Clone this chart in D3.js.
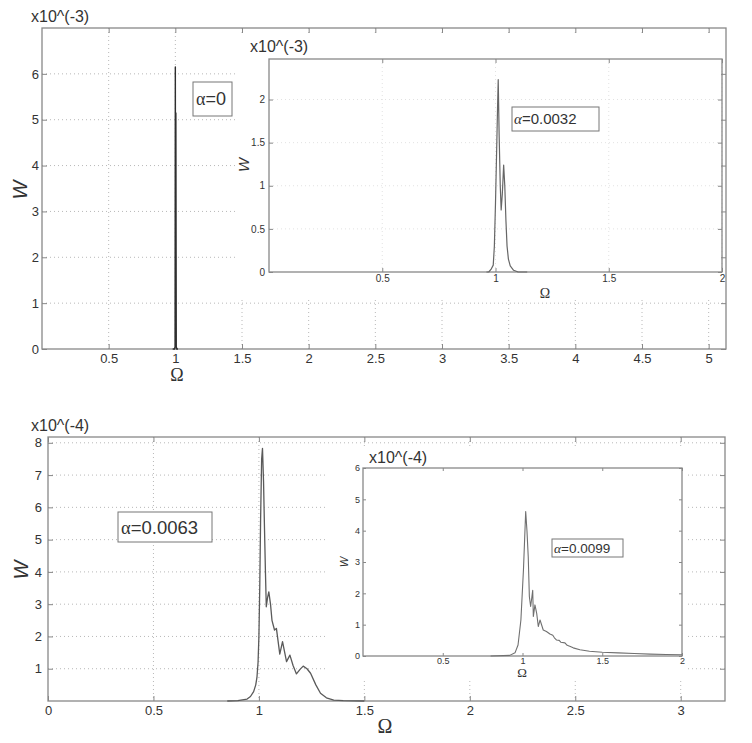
<!DOCTYPE html>
<html>
<head>
<meta charset="utf-8">
<script src="https://cdn.jsdelivr.net/npm/d3@7"></script>
<style>
  body { margin: 0; background: #fff; }
  svg text { font-family: Arial, "Liberation Sans", sans-serif; fill: #333; }
</style>
</head>
<body>
<div class="canvas"></div>
<script>
// ---- data ----

// top panel, alpha = 0 (W in units of 1e-3)
const omegaA0 = [0.98, 0.994, 0.998, 1.0, 1.002, 1.004, 1.007, 1.011, 1.02];
const wA0     = [0,    0,     0.05,  6.15, 0.6,  5.15,  0.05,  0,     0];

// top inset, alpha = 0.0032 (1e-3)
const omegaA1 = [0.96, 0.97, 0.98, 0.99, 0.995, 1.0, 1.005, 1.009, 1.012, 1.016, 1.021, 1.025, 1.03, 1.036, 1.041, 1.046, 1.051, 1.057, 1.065, 1.08, 1.1, 1.14];
const wA1     = [0,    0,    0.03, 0.08, 0.3,   0.8, 1.4,   1.9,   2.23,  1.6,   1.0,   0.72,  0.9,  1.24,  1.0,   0.6,   0.3,   0.15,  0.07,  0.02, 0,   0];

// bottom panel, alpha = 0.0063 (1e-4)
const omegaA2 = [0.85, 0.9, 0.944, 0.96, 0.975, 0.985, 0.991, 0.996, 1.0, 1.004, 1.008, 1.013, 1.017, 1.022, 1.026, 1.031, 1.035, 1.041, 1.047, 1.055, 1.062, 1.074, 1.083, 1.099, 1.112, 1.131, 1.147, 1.162, 1.178, 1.195, 1.21, 1.228, 1.245, 1.27, 1.292, 1.32, 1.355, 1.4, 1.5];
const wA2     = [0,    0.01, 0.06, 0.14, 0.29,  0.5,   0.75,  1.2,   2.0, 3.5,   5.6,   7.5,   7.83,  6.8,   5.5,   4.0,   2.92,  3.2,   3.38,  3.0,   2.5,   2.2,   2.25,  1.45,  1.84,  1.22,  1.42,  1.1,   0.84,  0.98,  1.08, 1.0,   0.86,  0.5,  0.24,  0.1,  0.03,  0.01, 0];

// bottom inset, alpha = 0.0099 (1e-4)
const omegaA3 = [0.8, 0.92, 0.953, 0.972, 0.99, 1.006, 1.02, 1.028, 1.036, 1.043, 1.051, 1.058, 1.064, 1.068, 1.078, 1.089, 1.099, 1.11, 1.13, 1.15, 1.172, 1.19, 1.2, 1.214, 1.23, 1.24, 1.266, 1.28, 1.3, 1.318, 1.36, 1.42, 1.5, 1.6, 1.7, 1.8, 1.9, 2.0];
const wA3     = [0,   0.02, 0.1,   0.35,  1.15, 2.75,  4.61, 4.0,   3.17,  1.9,   1.58,  1.85,  2.1,   1.26,  1.63,  1.36,  0.94,  1.15, 0.83, 0.78, 0.7,   0.66, 0.58, 0.51,  0.5,  0.44, 0.42,  0.34, 0.3, 0.26,  0.2,  0.15, 0.12, 0.1, 0.08, 0.06, 0.05, 0.04];

// ticks
const xTicksTop     = [0.5, 1, 1.5, 2, 2.5, 3, 3.5, 4, 4.5, 5];
const yTicksTop     = [0, 1, 2, 3, 4, 5, 6];
const xTicksInset1  = [0.5, 1, 1.5, 2];
const yTicksInset1  = [0, 0.5, 1, 1.5, 2];
const xTicksBottom  = [0, 0.5, 1, 1.5, 2, 2.5, 3];
const yTicksBottom  = [1, 2, 3, 4, 5, 6, 7, 8];
const xTicksInset2  = [0.5, 1, 1.5, 2];
const yTicksInset2  = [0, 1, 2, 3, 4, 5, 6];

const svg = d3.select('.canvas')
    .append('svg')
    .attr('width', 752)
    .attr('height', 743);

// draws one set of axes (frame, grid, ticks, curve)
const drawPanel = p => {
    const x = d3.scaleLinear().domain(p.xDomain).range([p.left, p.right]);
    const y = d3.scaleLinear().domain(p.yDomain).range([p.bottom, p.top]);
    const g = svg.append('g');

    if (p.bg) {
        g.append('rect')
            .attr('x', p.bg[0]).attr('y', p.bg[1])
            .attr('width', p.bg[2] - p.bg[0]).attr('height', p.bg[3] - p.bg[1])
            .attr('fill', '#fff');
    }

    // dotted grid
    if (p.gridColor) {
        const grid = g.append('g')
            .attr('stroke', p.gridColor)
            .attr('stroke-width', 1)
            .attr('stroke-dasharray', '1,3');
        grid.selectAll('line.gx')
            .data(p.xTicks.filter(d => d > p.xDomain[0]))
            .join('line').attr('class', 'gx')
            .attr('x1', d => x(d)).attr('x2', d => x(d))
            .attr('y1', p.top).attr('y2', p.bottom);
        grid.selectAll('line.gy')
            .data(p.yTicks.filter(d => d > p.yDomain[0]))
            .join('line').attr('class', 'gy')
            .attr('x1', p.left).attr('x2', p.right)
            .attr('y1', d => y(d)).attr('y2', d => y(d));
    }

    const fmt = d => String(d);
    const styleAxis = sel => {
        sel.select('.domain').remove();
        sel.selectAll('line').attr('stroke', p.axisColor);
        sel.selectAll('text')
            .attr('font-size', p.fontSize)
            .attr('fill', p.textColor)
            .attr('font-family', 'Arial, "Liberation Sans", sans-serif');
    };

    g.append('g').attr('transform', `translate(0,${p.bottom})`)
        .call(d3.axisBottom(x).tickValues(p.xTicks).tickSize(-p.tick).tickPadding(p.xPad).tickFormat(fmt))
        .call(styleAxis);
    g.append('g').attr('transform', `translate(0,${p.top})`)
        .call(d3.axisTop(x).tickValues(p.xTicks).tickSize(-p.tick).tickFormat(''))
        .call(styleAxis);
    g.append('g').attr('transform', `translate(${p.left},0)`)
        .call(d3.axisLeft(y).tickValues(p.yTicks).tickSize(-p.tick).tickPadding(p.yPad).tickFormat(fmt))
        .call(styleAxis);
    g.append('g').attr('transform', `translate(${p.right},0)`)
        .call(d3.axisRight(y).tickValues(p.yTicks).tickSize(-p.tick).tickFormat(''))
        .call(styleAxis);

    // frame
    g.append('rect')
        .attr('x', p.left).attr('y', p.top)
        .attr('width', p.right - p.left).attr('height', p.bottom - p.top)
        .attr('fill', 'none')
        .attr('stroke', p.axisColor)
        .attr('stroke-width', 1.3);

    // curve
    const line = d3.line()
        .x(d => x(d[0]))
        .y(d => y(d[1]));
    g.append('path')
        .datum(d3.zip(p.omega, p.w))
        .attr('d', line)
        .attr('fill', 'none')
        .attr('stroke', p.lineColor)
        .attr('stroke-width', p.lineWidth)
        .attr('stroke-linejoin', 'round');

    // exponent label
    g.append('text')
        .attr('x', p.expPos[0]).attr('y', p.expPos[1])
        .attr('font-size', 16).attr('fill', '#333')
        .text(p.expText);

    // W label (rotated)
    g.append('text')
        .attr('transform', `translate(${p.wPos[0]},${p.wPos[1]}) rotate(-90)`)
        .attr('text-anchor', 'middle')
        .attr('font-size', p.wSize)
        .attr('font-style', 'italic')
        .attr('fill', '#333')
        .text('W');

    // Omega label
    g.append('text')
        .attr('x', p.omPos[0]).attr('y', p.omPos[1])
        .attr('text-anchor', 'middle')
        .attr('font-size', p.omSize)
        .style('font-family', '"Liberation Serif", "DejaVu Serif", serif')
        .attr('fill', '#333')
        .text('Ω');

    // alpha box
    const b = p.box;
    g.append('rect')
        .attr('x', b.x0).attr('y', b.y0)
        .attr('width', b.x1 - b.x0).attr('height', b.y1 - b.y0)
        .attr('fill', '#fff')
        .attr('stroke', '#777')
        .attr('stroke-width', 1);
    const t = g.append('text')
        .attr('x', b.x0 + b.padL).attr('y', (b.y0 + b.y1) / 2)
        .attr('dy', '0.36em')
        .attr('font-size', b.size)
        .attr('fill', '#222');
    t.append('tspan')
        .style('font-family', '"Liberation Serif", "DejaVu Serif", serif')
        .attr('font-style', b.alphaStyle)
        .text('α');
    t.append('tspan').text(b.text);
};

// top main panel
drawPanel({
    left: 42, right: 726, top: 28, bottom: 349,
    xDomain: [0, 5.13], yDomain: [0, 7],
    xTicks: xTicksTop, yTicks: yTicksTop,
    tick: 5, xPad: 5, yPad: 3, fontSize: 13,
    gridColor: '#b8b8b8', axisColor: '#888', textColor: '#333',
    omega: omegaA0, w: wA0, lineColor: '#2e2e2e', lineWidth: 1.4,
    expText: 'x10^(-3)', expPos: [31, 22],
    wPos: [27, 190], wSize: 20,
    omPos: [177, 381], omSize: 18,
    box: { x0: 193, y0: 82, x1: 232, y1: 116, padL: 3, size: 18, text: '=0', alphaStyle: 'normal' }
});

// top inset
drawPanel({
    left: 269, right: 722, top: 59, bottom: 272,
    xDomain: [0, 2], yDomain: [0, 2.47],
    xTicks: xTicksInset1, yTicks: yTicksInset1,
    tick: 4, xPad: 3, yPad: 4, fontSize: 10,
    gridColor: '#e2e2e2', axisColor: '#888', textColor: '#444',
    bg: [238, 34, 721, 300],
    omega: omegaA1, w: wA1, lineColor: '#666', lineWidth: 1.2,
    expText: 'x10^(-3)', expPos: [250, 52],
    wPos: [249, 165], wSize: 15,
    omPos: [545, 298], omSize: 14,
    box: { x0: 512, y0: 107, x1: 599, y1: 131, padL: 2, size: 15, text: '=0.0032', alphaStyle: 'italic' }
});

// bottom main panel
drawPanel({
    left: 48, right: 725, top: 437, bottom: 701,
    xDomain: [0, 3.21], yDomain: [0, 8.18],
    xTicks: xTicksBottom, yTicks: yTicksBottom,
    tick: 5, xPad: 5, yPad: 6, fontSize: 13,
    gridColor: '#b8b8b8', axisColor: '#888', textColor: '#333',
    omega: omegaA2, w: wA2, lineColor: '#5a5a5a', lineWidth: 1.3,
    expText: 'x10^(-4)', expPos: [31, 431],
    wPos: [28, 570], wSize: 20,
    omPos: [385, 733], omSize: 20,
    box: { x0: 118, y0: 512, x1: 212, y1: 542, padL: 3, size: 18.5, text: '=0.0063', alphaStyle: 'normal' }
});

// bottom inset
drawPanel({
    left: 363, right: 682, top: 468, bottom: 656,
    xDomain: [0, 2], yDomain: [0, 6],
    xTicks: xTicksInset2, yTicks: yTicksInset2,
    tick: 3, xPad: 2, yPad: 3, fontSize: 9,
    gridColor: null, axisColor: '#888', textColor: '#444',
    bg: [328, 446, 686, 678],
    omega: omegaA3, w: wA3, lineColor: '#707070', lineWidth: 1.1,
    expText: 'x10^(-4)', expPos: [369, 463],
    wPos: [348, 562], wSize: 11,
    omPos: [522, 677], omSize: 13,
    box: { x0: 552, y0: 539, x1: 623, y1: 557, padL: 2, size: 13.5, text: '=0.0099', alphaStyle: 'italic' }
});
</script>
</body>
</html>
